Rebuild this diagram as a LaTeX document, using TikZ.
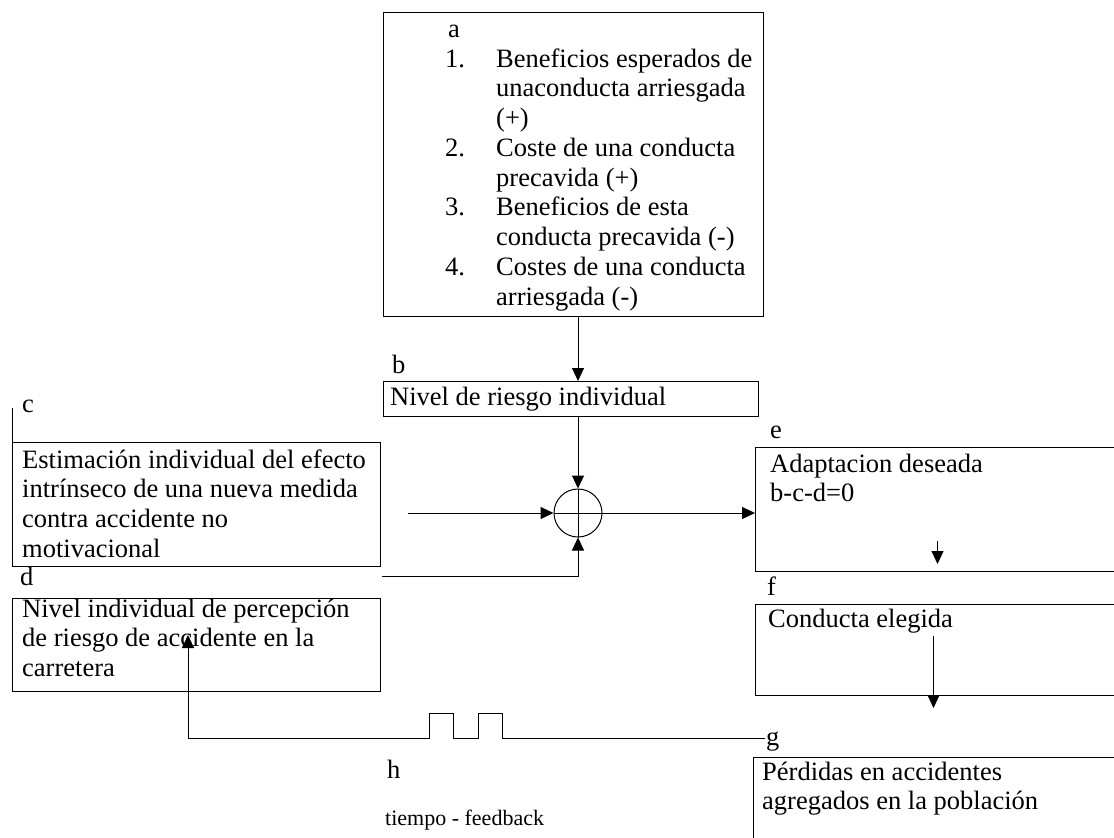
\documentclass[tikz,border=0pt]{standalone}
\usepackage{fontspec}
\setmainfont{Liberation Serif}
\usetikzlibrary{arrows.meta, positioning, calc}

% bloque de varias lineas, con la linea base en la primera
\newcommand{\bloque}[1]{\parbox[t]{400pt}{#1}}

\tikzset{
  caja/.style={draw=black, line width=1pt, anchor=north west, inner sep=0pt},
  letra/.style={anchor=base west, inner sep=0pt, font=\fontsize{26.5}{29.75}\selectfont},
  texto/.style={anchor=base west, inner sep=0pt, font=\fontsize{26.5}{29.75}\selectfont},
  flecha/.style={line width=1pt, -{Triangle[width=12pt,length=13pt]}},
  linea/.style={line width=1pt}
}

\begin{document}
\begin{tikzpicture}[x=1pt, y=-1pt]
    \useasboundingbox (0,0) rectangle (1114,838);
    \clip (0,0) rectangle (1114,838);

    % Caja a - factores
    \node[caja, minimum width=380pt, minimum height=304pt] (boxa) at (383,12) {};
    \node[letra] (la) at (448,37) {a};
    \node[texto] (lista) at (445,67) {\bloque{%
        \makebox[51pt][l]{1.}Beneficios esperados de\\
        \hspace*{51pt}unaconducta arriesgada\\
        \hspace*{51pt}(+)\\
        \makebox[51pt][l]{2.}Coste de una conducta\\
        \hspace*{51pt}precavida (+)\\
        \makebox[51pt][l]{3.}Beneficios de esta\\
        \hspace*{51pt}conducta precavida (-)\\
        \makebox[51pt][l]{4.}Costes de una conducta\\
        \hspace*{51pt}arriesgada (-)}};

    % Caja b
    \node[caja, minimum width=375pt, minimum height=35pt] (boxb) at (383,381) {};
    \node[letra] (lb) at (392,373) {b};
    \node[texto] (tb) at (390,405) {Nivel de riesgo individual};

    % Sumador
    \node[circle, draw, line width=1pt, minimum size=48pt, inner sep=0pt] (suma) at (578,513) {};
    \draw[linea] (suma.north) -- (suma.south);
    \draw[linea] (suma.west) -- (suma.east);

    % Cajas c y d
    \node[caja, minimum width=368pt, minimum height=124pt] (boxc) at (12,442) {};
    \draw[linea] (boxc.north west) -- ++(0,-34);
    \node[letra] (lc) at (22,412) {c};
    \node[texto] (tc) at (22,468) {\bloque{Estimación individual del efecto\\intrínseco de una nueva medida\\contra accidente no\\motivacional}};

    \node[caja, minimum width=368pt, minimum height=93pt] (boxd) at (12,598) {};
    \node[letra] (ld) at (20,585) {d};
    \node[texto] (td) at (22,617) {\bloque{Nivel individual de percepción\\de riesgo de accidente en la\\carretera}};

    % Cajas e, f y g
    \node[caja, minimum width=364pt, minimum height=124pt] (boxe) at (755,447) {};
    \node[letra] (le) at (770,438) {e};
    \node[texto] (te) at (770,472) {\bloque{Adaptacion deseada\\b-c-d=0}};

    \node[caja, minimum width=364pt, minimum height=91pt] (boxf) at (755,604) {};
    \node[letra] (lf) at (767,595) {f};
    \node[texto] (tf) at (768,627) {Conducta elegida};

    \node[caja, minimum width=366pt, minimum height=100pt] (boxg) at (753,757) {};
    \node[letra] (lg) at (766,745) {g};
    \node[texto] (tg) at (762,780) {\bloque{Pérdidas en accidentes\\agregados en la población}};

    % h
    \node[letra] (lh) at (387,778) {h};
    \node[letra, font=\fontsize{22}{26}\selectfont] (tiempo) at (385,825) {tiempo - feedback};

    % Conexiones
    \coordinate (entc) at (408,513);
    \coordinate (entd) at (382,576);
    \coordinate (retro) at (765,738);
    \coordinate (flechad) at (188,635);

    \draw[flecha] (suma |- boxa.south) -- (suma |- boxb.north);
    \draw[flecha] (suma |- boxb.south) -- (suma.north);
    \draw[flecha] (entc) -- (suma.west);
    \draw[flecha] (entd) -| (suma.south);
    \draw[flecha] (suma.east) -- (suma.east -| boxe.west);
    \draw[flecha] ($(boxe.south)+(0,-31)$) -- ($(boxe.south)+(0,-8)$);
    \draw[flecha] ($(boxf.south)+(-4,-60)$) -- ($(boxf.south)+(-4,12)$);

    % Retroalimentacion
    \draw[flecha] (retro) -- (502,738) -- (502,713) -- (478,713) -- (478,738)
        -- (453,738) -- (453,713) -- (429,713) -- (429,738) -- (188,738) -- (flechad);
\end{tikzpicture}
\end{document}
